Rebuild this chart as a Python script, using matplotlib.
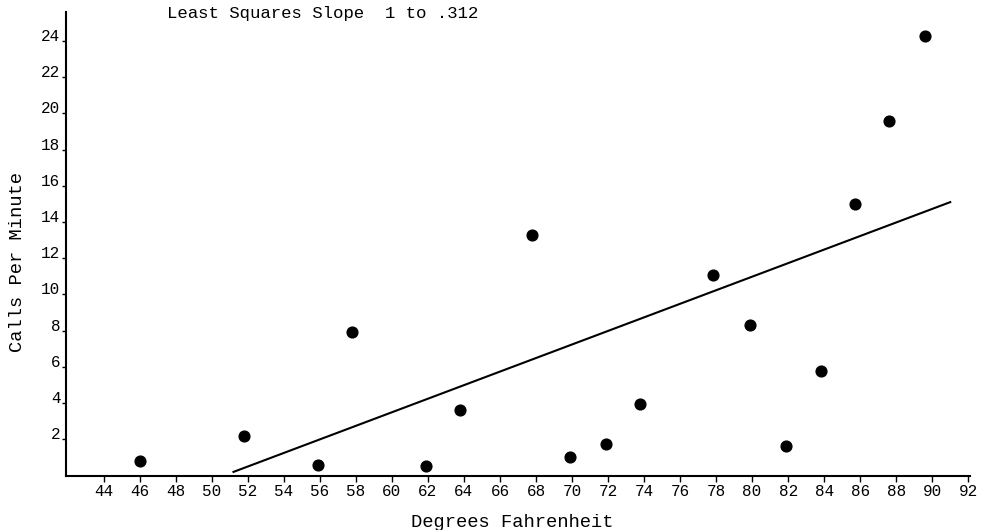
import matplotlib.pyplot as plt
import numpy as np

plt.rcParams['font.family'] = ['Liberation Mono', 'DejaVu Sans Mono']

# data
temp_f = [46, 51.8, 55.9, 57.8, 61.9, 63.8, 67.8, 69.9, 71.9, 73.8,
          77.8, 79.9, 81.9, 83.8, 85.7, 87.6, 89.6]
calls_per_min = [0.8, 2.2, 0.6, 7.9, 0.55, 3.6, 13.3, 1.05, 1.75, 3.95,
                 11.1, 8.3, 1.65, 5.8, 15.0, 19.6, 24.3]

# least squares line endpoints as drawn
fit_x = [51.2, 91.0]
fit_y = [0.2, 15.1]

x_ticks = np.arange(44, 93, 2)
y_ticks = np.arange(2, 25, 2)

fig = plt.figure(figsize=(9.81, 5.30), dpi=100)
ax = fig.add_axes([0.0673, 0.1028, 0.9215, 0.8745])

ax.scatter(temp_f, calls_per_min, s=60, color='black', zorder=3)
ax.plot(fit_x, fit_y, color='black', linewidth=1.5)

ax.set_xlim(41.9, 92.1)
ax.set_ylim(0, 25.6)
ax.set_xticks(x_ticks)
ax.set_yticks(y_ticks)

for s in ['top', 'right']:
    ax.spines[s].set_visible(False)
for s in ['left', 'bottom']:
    ax.spines[s].set_linewidth(1.5)

ax.tick_params(axis='x', direction='out', length=4, width=1, pad=2, labelsize=11.5)
ax.tick_params(axis='y', direction='out', length=3, width=1, pad=1, labelsize=11.5)
for lab in ax.get_yticklabels():
    lab.set_va('baseline')

fig.text(0.170, 0.974, 'Least Squares Slope  1 to .312', fontsize=12.5,
         ha='left', va='center')
fig.text(0.522, 0.015, 'Degrees Fahrenheit', fontsize=13.5,
         ha='center', va='center')
fig.text(0.018, 0.506, 'Calls Per Minute', fontsize=13.5, rotation=90,
         ha='center', va='center')

plt.savefig('out.png', dpi=100)
